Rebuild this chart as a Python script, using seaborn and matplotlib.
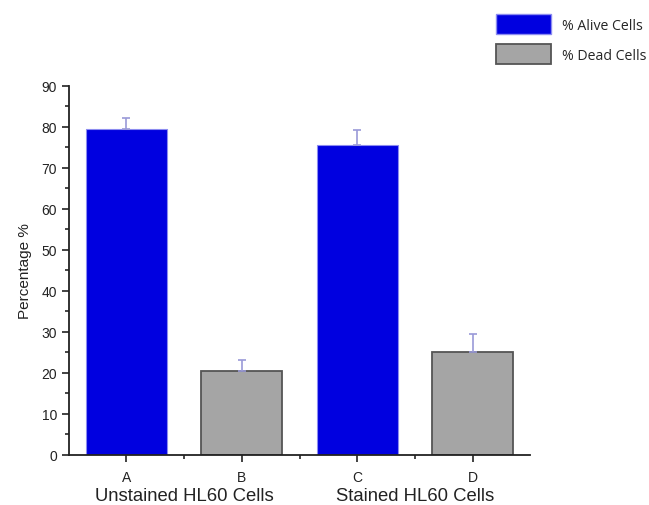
import matplotlib
matplotlib.use("Agg")
import matplotlib.pyplot as plt
from matplotlib.patches import Patch
from matplotlib.ticker import MultipleLocator, FixedLocator
import seaborn as sns
import pandas as pd
import numpy as np

categories = ["A", "B", "C", "D"]
series = ["% Alive Cells", "% Dead Cells", "% Alive Cells", "% Dead Cells"]
values = [79.5, 20.5, 75.4, 25.1]
errors = [2.7, 2.6, 3.8, 4.3]
groups = ["Unstained HL60 Cells", "Stained HL60 Cells"]

sns.set_theme(style="ticks")
plt.rcParams["font.family"] = ["Liberation Sans", "DejaVu Sans"]

df = pd.DataFrame({"cat": categories, "series": series, "value": values})
palette = {"% Alive Cells": "#0000E0", "% Dead Cells": "#A5A5A5"}
edges = {"% Alive Cells": "#8C8CF0", "% Dead Cells": "#555555"}

fig = plt.figure(figsize=(6.49, 5.06), dpi=100)
ax = fig.add_axes([0.106, 0.0994, 0.711, 0.7296])

sns.barplot(data=df, x="cat", y="value", hue="series", palette=palette,
            dodge=False, width=0.7, errorbar=None, legend=False,
            saturation=1, ax=ax)
for p in ax.patches:
    xc = p.get_x() + p.get_width() / 2
    idx = int(round(xc))
    if 0 <= idx < len(series) and p.get_height() > 0:
        p.set_edgecolor(edges[series[idx]])
        p.set_linewidth(1.3 if series[idx] == "% Dead Cells" else 0.8)
        p.set_zorder(2)

xs = np.arange(len(categories))
ax.errorbar(xs, values, yerr=[np.zeros(len(errors)), errors], fmt="none",
            ecolor="#9A9AD8", elinewidth=1.2, capsize=2.6, capthick=1.2, zorder=3)

ax.set_xlim(-0.5, 3.5)
ax.set_ylim(0, 90)
ax.yaxis.set_major_locator(MultipleLocator(10))
ax.yaxis.set_minor_locator(MultipleLocator(5))
ax.xaxis.set_minor_locator(FixedLocator([0.5, 1.5, 2.5]))
ax.tick_params(axis="both", which="major", direction="out", length=5, width=1.2,
               labelsize=10, colors="#222222")
ax.tick_params(axis="both", which="minor", direction="out", length=3, width=1.2)
ax.tick_params(axis="x", which="major", pad=6)
for side in ["left", "bottom"]:
    ax.spines[side].set_linewidth(1.3)
    ax.spines[side].set_color("#222222")
sns.despine(ax=ax)
ax.set_xlabel("")
ax.set_ylabel("Percentage %", fontsize=11, color="#222222", labelpad=7)

for i, g in enumerate(groups):
    ax.text(2 * i + 0.5, -0.11, g, transform=ax.get_xaxis_transform(),
            ha="center", va="center", fontsize=13.3, color="#222222")

handles = [Patch(facecolor="#0000E0", edgecolor="#8C8CF0", label="% Alive Cells"),
           Patch(facecolor="#A5A5A5", edgecolor="#555555", linewidth=1.3, label="% Dead Cells")]
leg = fig.legend(handles=handles, loc="upper left", bbox_to_anchor=(0.764, 0.970),
                 frameon=False, handlelength=3.9, handleheight=1.75,
                 handletextpad=0.75, labelspacing=0.75, borderpad=0,
                 borderaxespad=0,
                 prop={"family": ["Open Sans", "DejaVu Sans"], "size": 10.2})

fig.savefig("out.png", dpi=100)
